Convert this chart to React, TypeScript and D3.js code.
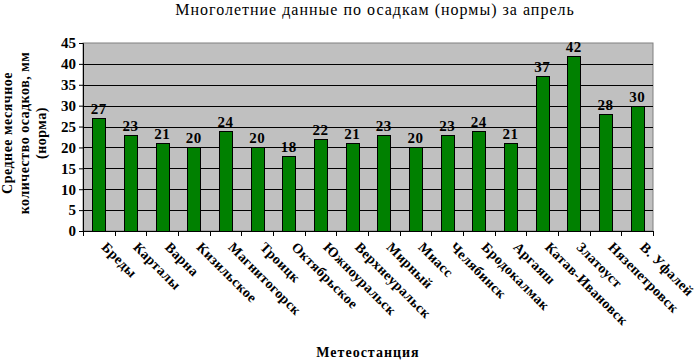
import React, { useEffect, useRef } from "react";
import * as d3 from "d3";

const stations = [
  "Бреды", "Карталы", "Варна", "Кизильское", "Магнитогорск", "Троицк",
  "Октябрьское", "Южноуральск", "Верхнеуральск", "Мирный", "Миасс",
  "Челябинск", "Бродокалмак", "Аргаяш", "Катав-Ивановск", "Златоуст",
  "Нязепетровск", "В. Уфалей",
];
const precip = [27, 23, 21, 20, 24, 20, 18, 22, 21, 23, 20, 23, 24, 21, 37, 42, 28, 30];
const yTicks = [0, 5, 10, 15, 20, 25, 30, 35, 40, 45];

const App = () => {
  const svgRef = useRef<SVGSVGElement>(null);

  useEffect(() => {
    const width = 699;
    const height = 362;
    const margin = { top: 43, right: 46, bottom: 131, left: 83 };
    const w = width - margin.left - margin.right;
    const h = height - margin.top - margin.bottom;
    const font = "Times New Roman, Liberation Serif, DejaVu Serif, serif";

    const svg = d3.select(svgRef.current);
    svg.selectAll("*").remove();
    svg.attr("width", width).attr("height", height).attr("font-family", font);

    const x = d3.scaleBand().domain(stations).range([0, w]).padding(0);
    const y = d3.scaleLinear().domain([0, 45]).range([h, 0]);

    // title
    svg.append("text")
      .attr("x", 375).attr("y", 15)
      .attr("text-anchor", "middle")
      .attr("font-family", font)
      .attr("font-size", 16)
      .attr("letter-spacing", 1)
      .text("Многолетние данные по осадкам (нормы) за апрель");

    const g = svg.append("g").attr("transform", `translate(${margin.left},${margin.top})`);

    // plot background
    g.append("rect")
      .attr("width", w).attr("height", h)
      .attr("fill", "#c0c0c0")
      .attr("stroke", "#808080");

    // gridlines
    g.selectAll("line.grid")
      .data(yTicks.filter((t) => t > 0 && t < 45))
      .enter().append("line")
      .attr("class", "grid")
      .attr("x1", 0).attr("x2", w)
      .attr("y1", (d) => Math.round(y(d)) + 0.5)
      .attr("y2", (d) => Math.round(y(d)) + 0.5)
      .attr("stroke", "#000");

    // y axis
    const yAxis = g.append("g").call(d3.axisLeft(y).tickValues(yTicks).tickSize(4).tickPadding(3));
    yAxis.attr("font-family", font);
    yAxis.select(".domain").attr("stroke", "#000");
    yAxis.selectAll("text")
      .attr("font-size", 15).attr("font-weight", "bold")
      .attr("font-family", font).attr("fill", "#000");

    // bars
    const barW = 13;
    g.selectAll("rect.bar")
      .data(precip)
      .enter().append("rect")
      .attr("class", "bar")
      .attr("x", (d, i) => Math.round(x(stations[i])! + x.bandwidth() / 2 - barW / 2) + 0.5)
      .attr("y", (d) => Math.round(y(d)) + 0.5)
      .attr("width", barW)
      .attr("height", (d) => h - Math.round(y(d)))
      .attr("fill", "#008000")
      .attr("stroke", "#000");

    // value labels
    g.selectAll("text.val")
      .data(precip)
      .enter().append("text")
      .attr("class", "val")
      .attr("x", (d, i) => x(stations[i])! + x.bandwidth() / 2)
      .attr("y", (d) => y(d) - 4)
      .attr("text-anchor", "middle")
      .attr("font-family", font)
      .attr("font-size", 15).attr("font-weight", "bold")
      .attr("letter-spacing", 0.5)
      .text((d) => d);

    // x axis
    g.append("line")
      .attr("x1", 0).attr("x2", w)
      .attr("y1", h + 0.5).attr("y2", h + 0.5)
      .attr("stroke", "#000");
    g.selectAll("line.xtick")
      .data(d3.range(stations.length + 1))
      .enter().append("line")
      .attr("class", "xtick")
      .attr("x1", (i) => Math.round(i * x.step()) + 0.5)
      .attr("x2", (i) => Math.round(i * x.step()) + 0.5)
      .attr("y1", h).attr("y2", h + 5)
      .attr("stroke", "#000");

    g.selectAll("text.xl")
      .data(stations)
      .enter().append("text")
      .attr("class", "xl")
      .attr("transform", (d) => `translate(${x(d)! + x.bandwidth() / 2 + 2},${h + 17}) rotate(45)`)
      .attr("font-family", font)
      .attr("font-size", 14).attr("font-weight", "bold")
      .attr("letter-spacing", 0.4)
      .text((d) => d);

    // axis titles
    svg.append("text")
      .attr("x", 368).attr("y", 357)
      .attr("text-anchor", "middle")
      .attr("font-family", font)
      .attr("font-size", 14).attr("font-weight", "bold")
      .attr("letter-spacing", 1)
      .text("Метеостанция");

    const yLabel = ["Среднее месячное", "количество осадков, мм", "(норма)"];
    svg.append("g")
      .attr("transform", `translate(0,${margin.top + h / 2 - 4}) rotate(-90)`)
      .selectAll("text")
      .data(yLabel)
      .enter().append("text")
      .attr("x", 0)
      .attr("y", (d, i) => 12 + i * 17)
      .attr("text-anchor", "middle")
      .attr("font-family", font)
      .attr("font-size", 14).attr("font-weight", "bold")
      .attr("letter-spacing", 0.5)
      .text((d) => d);
  }, []);

  return (
    <div style={{ position: "absolute", left: 0, top: 0 }}>
      <svg ref={svgRef}></svg>
    </div>
  );
};

export default App;
